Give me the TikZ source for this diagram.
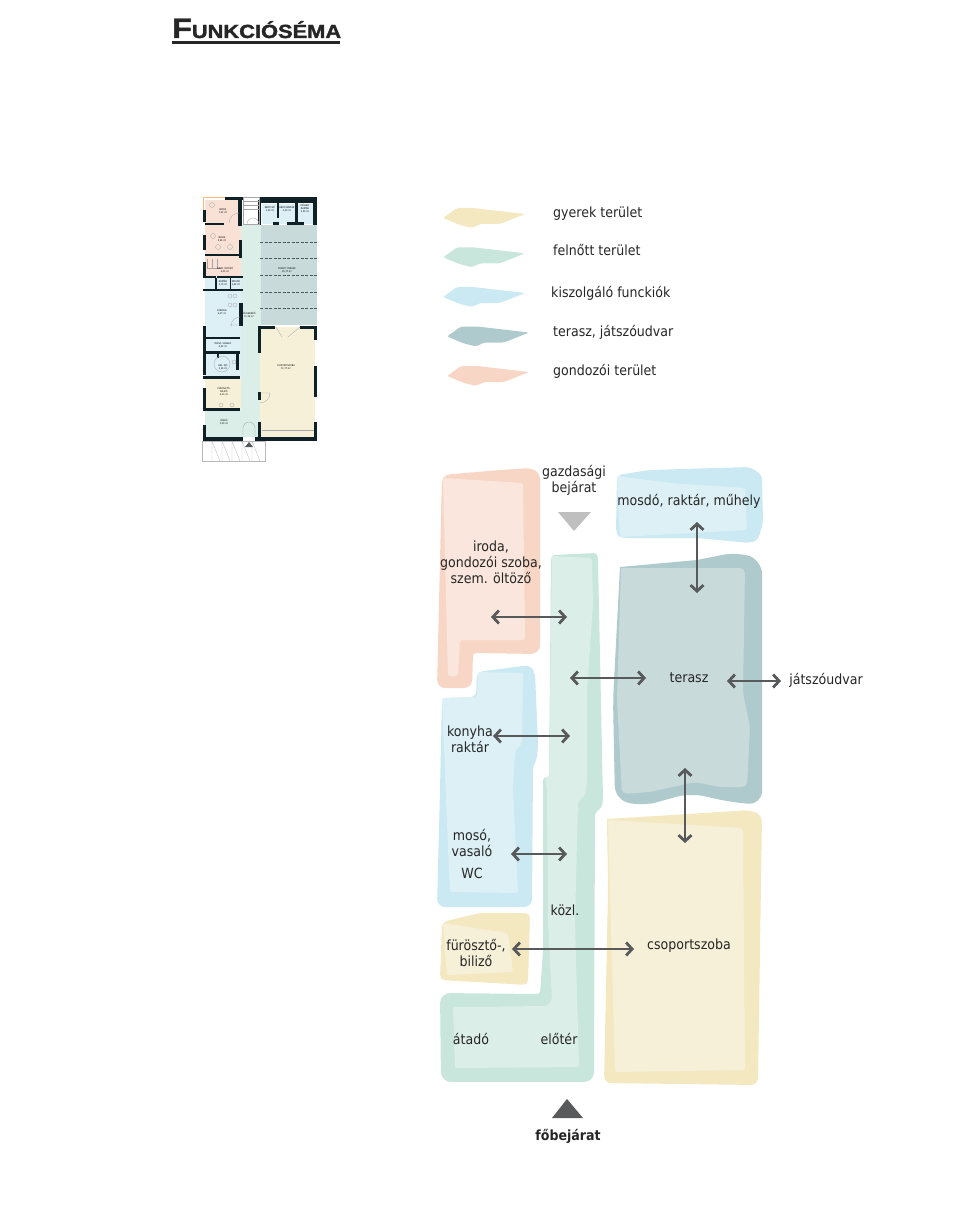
\documentclass[tikz,border=0pt]{standalone}
\usepackage{fontspec}
\setmainfont{DejaVu Sans Condensed}
\newfontfamily\titlefont[FakeStretch=1.15,BoldFeatures={FakeBold=1.6}]{Liberation Sans}
\usetikzlibrary{
    positioning,
    arrows.meta
}
\definecolor{gondozout}{HTML}{F8D6C6}
\definecolor{gondozin}{HTML}{FAE6DC}
\definecolor{kiszolgout}{HTML}{CAE9F3}
\definecolor{kiszolgin}{HTML}{DDF0F6}
\definecolor{felnottout}{HTML}{C8E6DB}
\definecolor{felnottin}{HTML}{DBEEE8}
\definecolor{teraszout}{HTML}{AFCACC}
\definecolor{teraszin}{HTML}{C8DADA}
\definecolor{gyerekout}{HTML}{F3E8C0}
\definecolor{gyerekin}{HTML}{F6F0D8}
\definecolor{falszin}{HTML}{0F2027}
\definecolor{nyilszin}{HTML}{58595B}
\definecolor{szoveg}{HTML}{262626}
\tikzset{
    >={Straight Barb[length=6pt,width=13pt,line width=2.8pt]},
    folt/.style={rounded corners=5pt},
    felirat/.style={text=szoveg, align=center, inner sep=0pt,
        font=\fontsize{14}{16.2}\selectfont},
    cimke/.style={felirat, anchor=west},
    nyil/.style={<->, draw=nyilszin, line width=2.8pt},
    fal/.style={fill=falszin},
    vekony/.style={draw=gray!70, line width=0.3pt},
    aprobetu/.style={text=black, align=center, inner sep=0pt,
        font=\fontsize{2.4}{3}\selectfont}
}
\begin{document}
\begin{tikzpicture}[x=1pt,y=-1pt]

    \useasboundingbox (0,0) rectangle (960,1222);

    % Cim
    \node[anchor=base west, inner sep=0pt, text=szoveg] (cim) at (172,38)
        {\titlefont\bfseries\fontsize{28}{28}\selectfont F\fontsize{19}{19}\selectfont UNKCIÓSÉMA};
    \fill[szoveg] (172,41) rectangle (340,43.6);

    % Alaprajz: helyisegek
    \fill[gondozin!70!gondozout] (205,200) rectangle (241,277);
    \fill[kiszolgin] (205,277) rectangle (241,378);
    \fill[gyerekin] (205,378) rectangle (241,410);
    \fill[felnottin] (205,410) rectangle (241,437);
    \fill[felnottin] (241,225) rectangle (261,437);
    \fill[kiszolgin] (262,204) rectangle (313,224);
    \fill[teraszin] (261,225) rectangle (317,325);
    \fill[gyerekin] (260,327) rectangle (315,437);

    % Alaprajz: falak
    \fill[fal] (225,197) rectangle (243,200.5);
    \fill[fal] (259,197) rectangle (317,203);
    \fill[fal] (203,210) rectangle (206,222);
    \fill[fal] (203,235) rectangle (206,250);
    \fill[fal] (203,262) rectangle (206,278);
    \fill[fal] (205,223) rectangle (224,225.5);
    \fill[fal] (238,200) rectangle (241.5,226);
    \fill[fal] (239,240) rectangle (242,258);
    \fill[fal] (205,254) rectangle (241,256);
    \fill[fal] (203,276) rectangle (216,278);
    \fill[fal] (215,278) rectangle (217,290);
    \fill[fal] (217,276) rectangle (243,278);
    \fill[fal] (229.5,278) rectangle (231,289);
    \fill[fal] (203,289) rectangle (243,291);
    \fill[fal] (239,303) rectangle (243,326);
    \fill[fal] (203,326) rectangle (206,351);
    \fill[fal] (205,337) rectangle (240,339);
    \fill[fal] (203,351) rectangle (240,354);
    \fill[fal] (203,354) rectangle (206,375);
    \fill[fal] (217,354) rectangle (219,358);
    \fill[fal] (236,354) rectangle (239,370);
    \fill[fal] (203,376) rectangle (240,378.5);
    \fill[fal] (203,388) rectangle (206,408);
    \fill[fal] (203,408) rectangle (240,411);
    \fill[fal] (203,425) rectangle (206,441);
    \fill[fal] (203,437) rectangle (243,441);
    \fill[fal] (255,437) rectangle (317,441);
    \fill[fal] (258,326) rectangle (261,353);
    \fill[fal] (258,392) rectangle (261,400);
    \fill[fal] (258,422) rectangle (261,441);
    \fill[fal] (261,326) rectangle (275,329);
    \fill[fal] (300,326) rectangle (317,329);
    \fill[fal] (314,326) rectangle (317,340);
    \fill[fal] (314,366) rectangle (317,397);
    \fill[fal] (314,422) rectangle (317,441);
    % felso sor
    \fill[fal] (258,200) rectangle (261,225);
    \fill[fal] (277,203) rectangle (279,218);
    \fill[fal] (295,203) rectangle (297.5,225);
    \fill[fal] (313,200) rectangle (317,225);
    \fill[fal] (273,222) rectangle (279,225);
    \fill[fal] (287,222) rectangle (304,225);

    % Alaprajz: ablakok, terasz vonalai
    \draw[orange!55!white, line width=0.7pt] (203.5,197) -- (203.5,210) (204,197) -- (225,197);
    \foreach \yy in {242,258,275,292,308}
        \draw[falszin!75, line width=0.4pt, dash pattern=on 3pt off 1.5pt] (260,\yy) -- (317,\yy);
    \draw[vekony] (207,259) -- (207,268) -- (221,268)
        (212,259) -- (212,268) (217,259) -- (217,268);
    \draw[vekony] (243,197) rectangle (259,224);
    \draw[vekony] (243,201) -- (259,201) (243,205) -- (259,205) (243,209) -- (259,209);
    \draw[vekony] (229,223) arc (180:270:10) (247,224) arc (180:360:6);
    \draw[vekony] (260,393) -- (270,393) arc (0:90:10);
    \draw[vekony] (231,326) arc (180:270:9) (230,325) -- (240,325);
    \draw[vekony] (276,327) -- (282,337) (300,327) -- (288,337);
    \draw[vekony] (262,430) -- (314,430);
    \draw[vekony] (243,437) -- (243,428) arc (180:360:6) -- (255,437);
    \draw[vekony] (212,205) circle (2.5) (213,236) circle (2.5) (218,247) circle (2.5)
        (230,247) circle (2.5) (230,296) circle (2) (235,296) circle (2) (230,305) circle (2) (235,305) circle (2)
        (234,362) circle (2) (222,364) circle (8) (221,405) circle (2) (232,405) circle (2);
    % bejarat lepcso
    \draw[gray!55, line width=0.3pt] (202,441) rectangle (265,461);
    \foreach \xx in {212,222,232,242,252}
        \draw[gray!55, line width=0.3pt] (\xx,441) -- (\xx,461) (\xx,441) -- ++(8,20);
    \fill[nyilszin] (245,447) -- (249,442) -- (253,447) -- cycle;

    % Alaprajz: feliratok
    \node[aprobetu] (r1) at (223,211) {IRODA\\1,32 m²};
    \node[aprobetu] (r2) at (222,239) {IRODA\\5,96 m²};
    \node[aprobetu] (r3) at (225,270) {SZEM. ÖLTÖZŐ\\4,50 m²};
    \node[aprobetu] (r4) at (223,283) {RAKTÁR\\2,70 m²};
    \node[aprobetu] (r5) at (236,283) {MOSDÓ\\1,42 m²};
    \node[aprobetu] (r6) at (222,312) {KONYHA\\6,27 m²};
    \node[aprobetu] (r7) at (249,315) {KÖZLEKEDŐ\\11,36 m²};
    \node[aprobetu] (r8) at (270,209) {KERTI WC\\1,20 m²};
    \node[aprobetu] (r9) at (287,209) {KERTI RAKTÁR\\2,20 m²};
    \node[aprobetu] (r10) at (305,209) {MŰHELY\\RAKTÁR\\2,30 m²};
    \node[aprobetu] (r11) at (287,270) {FEDETT TERASZ\\35,77 m²};
    \node[aprobetu] (r12) at (223,345) {MOSÓ, VASALÓ\\4,32 m²};
    \node[aprobetu] (r13) at (223,367) {AKL. WC\\3,34 m²};
    \node[aprobetu] (r14) at (224,392) {FÜRÖSZTŐ-\\BILIZŐ\\6,10 m²};
    \node[aprobetu] (r15) at (224,422) {ÁTADÓ\\5,50 m²};
    \node[aprobetu] (r16) at (286,367) {CSOPORTSZOBA\\51,77 m²};

    % Jelmagyarazat
    \foreach \xx/\yy/\szin in {0/0/gyerekout, 0/39.3/felnottout, 0/79/kiszolgout, 4/118.5/teraszout, 4/158/gondozout}
        \fill[\szin, rounded corners=2pt, shift={(\xx,\yy)}]
            (443,218) -- (457,208) -- (473,208) -- (525,214) -- (500,224)
            -- (480,224) -- (472,228) -- (460,225) -- cycle;
    \node[cimke] (lgyerek) at (553,214) {gyerek terület};
    \node[cimke] (lfelnott) at (553,250) {felnőtt terület};
    \node[cimke] (lkiszolg) at (551,293) {kiszolgáló funckiók};
    \node[cimke] (lterasz) at (553,332) {terasz, játszóudvar};
    \node[cimke] (lgondoz) at (553,371.5) {gondozói terület};

    % Foltok: gondozoi
    \fill[folt, gondozout] (442,475) [sharp corners] -- (500,470) [rounded corners=5pt] -- (530,468) -- (540,473)
        [rounded corners=9pt] -- (540,654) [rounded corners=3pt] -- (473,653)
        [rounded corners=8pt] -- (472,688) -- (437,688) -- cycle;
    \fill[gondozin, rounded corners=2pt] (443,478) -- (523,483) -- (525,640) -- (460,640)
        -- (458,676) -- (448,676) -- cycle;

    % Foltok: kiszolgalo
    \fill[folt, kiszolgout] (617,475) -- (650,470) -- (750,467) -- (762,475) -- (763,523)
        -- (758,540) -- (750,543) -- (697,538) -- (620,538) -- (616,533) -- cycle;
    \fill[kiszolgin, rounded corners=2pt] (617,476) -- (670,483) -- (745,488) -- (747,530)
        -- (620,537) -- cycle;
    \fill[folt, kiszolgout] (442,698) -- (476,697) -- (477,672) -- (530,665) -- (535,673)
        -- (538,743) -- (537,760) -- (533,765) [rounded corners=8pt] -- (532,907) -- (437,907)
        [rounded corners=5pt] -- (440,790) -- cycle;
    \fill[kiszolgin, rounded corners=2pt] (442,698) -- (477,697) -- (478,672) -- (523,673)
        -- (522,743) -- (515,752) -- (513,790) -- (518,893) -- (450,892) -- (447,823) -- cycle;

    % Foltok: terasz
    \fill[teraszout] (620,567) -- (697,560) [rounded corners=14pt] -- (737,552) -- (762,560)
        -- (762,805) -- (730,802) -- (690,793) -- (665,800) -- (643,806) -- (615,800)
        -- (613,700) [sharp corners] -- cycle;
    \fill[teraszin] (621,568) [rounded corners=5pt] -- (745,568) -- (743,693) -- (750,727)
        -- (747,787) -- (720,787) -- (695,782) -- (650,792) -- (622,794) -- (617,700) [sharp corners] -- cycle;

    % Foltok: gyerek
    \fill[gyerekout] (607,819) -- (720,812) [rounded corners=7pt] -- (750,810) -- (762,815) -- (758,1085) -- (604,1083)
        -- (608,890) [sharp corners] -- cycle;
    \fill[gyerekin, rounded corners=2pt] (608,820) -- (743,828) -- (745,1070) -- (615,1072) -- cycle;
    \fill[folt, gyerekout] (442,922) -- (480,913) -- (530,913) -- (528,985) -- (440,980) -- cycle;
    \fill[gyerekin, rounded corners=2pt] (443,923) -- (508,933) -- (513,972) -- (447,975) -- cycle;

    % Foltok: felnott
    \fill[felnottout, rounded corners=3pt] (552,555) -- (597,553) -- (598,560) -- (603,800) -- (602,807)
        -- (595,813) [rounded corners=10pt] -- (594,1082) -- (441,1082) -- (440,993)
        [rounded corners=2pt] -- (540,994)
        -- (543,950) -- (543,778) -- (549,777) -- (551,560) -- cycle;
    \fill[felnottin, rounded corners=2pt] (552,556) -- (592,558) -- (593,603) -- (587,693) -- (587,780)
        -- (585,795) -- (578,802) -- (575,923) -- (579,1067) -- (455,1068) -- (453,1007) -- (547,1006)
        -- (552,1000) -- (548,923) -- (547,790) -- (545,778) -- (549,777) -- cycle;

    % Haromszogek
    \fill[gray!50] (558,512) -- (591,512) -- (574,531) -- cycle;
    \fill[nyilszin] (552,1118) -- (583,1118) -- (567,1099) -- cycle;

    % Feliratok
    \node[felirat] (gazdasagi) at (574,480) {gazdasági\\bejárat};
    \node[felirat] (iroda) at (491,562) {iroda,\\gondozói szoba,\\szem. öltöző};
    \node[felirat] (mosdo) at (689,501) {mosdó, raktár, műhely};
    \node[felirat] (terasz) at (689,678) {terasz};
    \node[felirat] (jatszo) at (826,680) {játszóudvar};
    \node[felirat] (konyha) at (470,739) {konyha\\raktár};
    \node[felirat] (moso) at (472,843) {mosó,\\vasaló};
    \node[felirat] (wc) at (472,873) {WC};
    \node[felirat] (kozl) at (565,910) {közl.};
    \node[felirat] (furoszto) at (476,953) {fürösztő-,\\biliző};
    \node[felirat] (csoport) at (689,946) {csoportszoba};
    \node[felirat] (atado) at (471,1039) {átadó};
    \node[felirat] (eloter) at (559,1039) {előtér};
    \node[felirat, font=\fontsize{14}{16.2}\selectfont\bfseries] (fobejarat) at (568,1136) {főbejárat};

    % Nyilak
    \coordinate (a1) at (491,617);
    \coordinate (a2) at (567,617);
    \coordinate (b1) at (570,678);
    \coordinate (b2) at (646,678);
    \coordinate (c1) at (727,681);
    \coordinate (c2) at (781,681);
    \coordinate (d1) at (493,736);
    \coordinate (d2) at (570,736);
    \coordinate (e1) at (697,522);
    \coordinate (e2) at (697,593);
    \coordinate (f1) at (685,768);
    \coordinate (f2) at (685,843);
    \coordinate (g1) at (511,854);
    \coordinate (g2) at (567,854);
    \coordinate (h1) at (512,949);
    \coordinate (h2) at (634,949);
    \foreach \aa/\bb in {a1/a2, b1/b2, c1/c2, d1/d2, e1/e2, f1/f2, g1/g2, h1/h2}
        \draw[nyil] (\aa) -- (\bb);

\end{tikzpicture}
\end{document}
